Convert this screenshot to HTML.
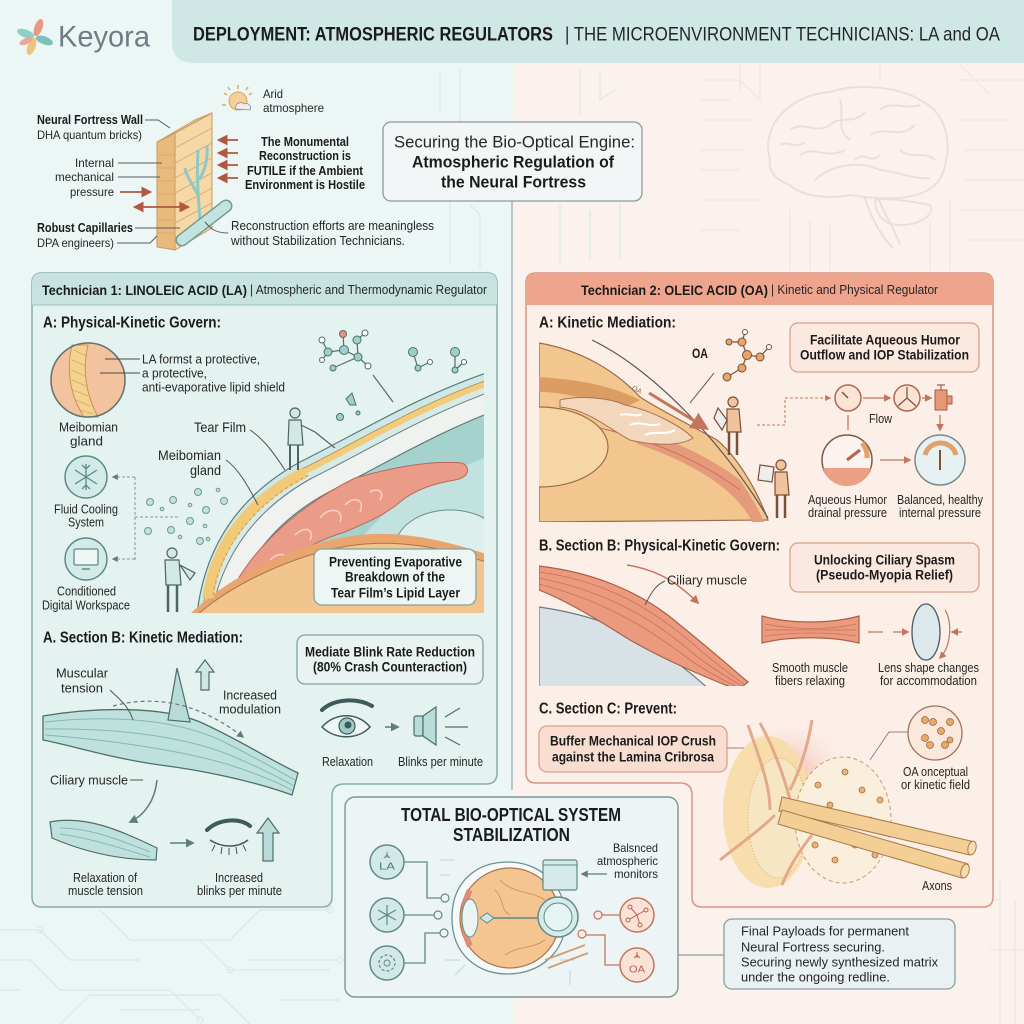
<!DOCTYPE html>
<html><head><meta charset="utf-8">
<style>
html,body{margin:0;padding:0;width:1024px;height:1024px;overflow:hidden;background:#ecf6f5;}
svg{display:block;}
text{font-family:"Liberation Sans",sans-serif;fill:#262626;dominant-baseline:central;}
.b{font-weight:bold;fill:#1b1b1b;}
</style></head><body>
<svg width="1024" height="1024" viewBox="0 0 1024 1024" xmlns="http://www.w3.org/2000/svg">
<defs>
<marker id="ag" viewBox="0 0 10 10" refX="8" refY="5" markerWidth="6" markerHeight="6" orient="auto-start-reverse"><path d="M0 0 L10 5 L0 10 z" fill="#5f7d7b"/></marker>
<marker id="ao" viewBox="0 0 10 10" refX="8" refY="5" markerWidth="6" markerHeight="6" orient="auto-start-reverse"><path d="M0 0 L10 5 L0 10 z" fill="#c2755c"/></marker>
<marker id="ar" viewBox="0 0 10 10" refX="8" refY="5" markerWidth="6" markerHeight="6" orient="auto-start-reverse"><path d="M0 0 L10 5 L0 10 z" fill="#b05842"/></marker>
<radialGradient id="pg" cx="0.5" cy="0.5" r="0.5"><stop offset="0" stop-color="#f3b6a8"/><stop offset="1" stop-color="#fbe9e2" stop-opacity="0"/></radialGradient>
<radialGradient id="tg" cx="0.5" cy="0.5" r="0.5"><stop offset="0" stop-color="#cfe7e7"/><stop offset="1" stop-color="#eaf3f4" stop-opacity="0"/></radialGradient>
<clipPath id="c1"><rect x="190" y="368" width="294" height="245"/></clipPath>
<clipPath id="c2"><rect x="539" y="336" width="232" height="186"/></clipPath>
<clipPath id="c3"><rect x="539" y="560" width="210" height="126"/></clipPath>
</defs>

<!-- backgrounds -->
<rect width="1024" height="1024" fill="#ecf6f5"/>
<rect x="513" y="60" width="511" height="964" fill="#fbf2ed"/>

<!-- faint circuits -->
<g fill="none" stroke="#d8e8e6" stroke-width="1.2">
<path d="M0 930 H40 L70 960 H140 M0 960 H30 L60 990 H170 L200 1020 M0 990 H20 M100 910 L130 940 H230 L260 910 H330 M60 1024 L90 995 H220 L250 1024 M250 960 H340 M200 940 L230 970 H330 M280 1000 H340 M120 1010 H200"/>
<path d="M440 70 V110 M460 70 V120 L470 130 M580 70 V115 M600 70 V100 L615 90 M620 200 V260 M450 200 V265 M470 205 L480 215 V268 M560 205 V265 M590 210 V260"/>
</g>
<g fill="none" stroke="#d8e8e6" stroke-width="1"><circle cx="40" cy="930" r="3"/><circle cx="330" cy="910" r="3"/><circle cx="340" cy="960" r="3"/><circle cx="200" cy="1020" r="3"/><circle cx="230" cy="970" r="3"/></g>
<g fill="none" stroke="#f1e5de" stroke-width="1.2">
<path d="M700 80 H740 L760 100 M700 100 H730 M700 120 H750 M700 150 H745 M700 170 L740 170 M700 200 H760 M700 230 H740 M960 80 H1024 M960 120 H1010 M965 150 H1024 M965 180 H1024 M960 210 H1024 M965 240 H1024 M790 210 V270 M810 220 V270 M830 225 V270 M930 220 V270 M950 200 V270 M740 65 V90 M760 65 V100 M880 65 V80 M960 65 L990 95"/>
<path d="M1000 880 V1024 M1015 900 V1024 M960 900 H1000 M1024 950 H990"/>
</g>

<!-- header band -->
<path d="M172 0 H1024 V63 H194 Q172 63 172 41 Z" fill="#cfe8e6"/>
<!-- logo -->
<g transform="translate(35,37)">
<ellipse cx="0" cy="-10" rx="4" ry="9" fill="#e59a86" transform="rotate(20)"/>
<ellipse cx="0" cy="-10" rx="4" ry="9" fill="#79c2bd" transform="rotate(110)"/>
<ellipse cx="0" cy="-10" rx="4" ry="9" fill="#f0c27f" transform="rotate(200)"/>
<ellipse cx="0" cy="-10" rx="4" ry="9" fill="#8fcfc9" transform="rotate(290)"/>
<ellipse cx="0" cy="-10" rx="3" ry="7" fill="#e8a79a" transform="rotate(245)"/>
</g>
<text x="58" y="37" font-size="30" style="fill:#6e7c83" textLength="92" lengthAdjust="spacingAndGlyphs">Keyora</text>
<text class="b" x="193" y="35" font-size="19" textLength="360" lengthAdjust="spacingAndGlyphs">DEPLOYMENT: ATMOSPHERIC REGULATORS</text>
<text x="565" y="35" font-size="19" textLength="435" lengthAdjust="spacingAndGlyphs">| THE MICROENVIRONMENT TECHNICIANS: LA and OA</text>

<!-- brain -->
<g fill="none" stroke="#ebe0d9" stroke-width="2">
<path d="M770 160 C760 125, 790 95, 830 92 C860 82, 900 88, 920 100 C945 112, 952 140, 945 165 C942 185, 925 195, 905 197 C890 200, 870 198, 850 195 C825 200, 800 195, 790 185 C775 180, 768 170, 770 160 Z"/>
<path d="M815 180 C830 165, 860 160, 880 170 C900 172, 915 180, 930 178 M790 130 C805 120, 815 135, 830 125 C840 115, 855 125, 865 112 M800 155 C815 145, 825 160, 845 150 M870 135 C885 125, 900 140, 915 125 M880 110 C890 100, 905 110, 920 105 M840 100 C845 115, 835 130, 850 140 M900 150 C910 160, 925 150, 935 160 M780 145 C790 140, 795 150, 805 142 M855 160 C865 150, 870 165, 880 155"/>
<path d="M875 200 C885 198, 905 200, 930 205 C935 215, 920 225, 900 225 C885 225, 875 215, 875 200 Z"/>
<path d="M865 198 C870 215, 880 235, 893 248 M878 198 C885 215, 895 230, 900 245"/>
</g>

<!-- top-left wall illustration -->
<path d="M175 133 L212 113 L212 228 L175 250 Z" fill="#f6d7a6" stroke="#c99a62" stroke-width="1"/>
<path d="M157 142 L175 133 L175 250 L157 247 Z" fill="#eab97c" stroke="#c99a62" stroke-width="1"/>
<path d="M157 142 L195 120 L212 113 L175 133 Z" fill="#f3cd96" stroke="#c99a62" stroke-width="1"/>
<g stroke="#d2a66f" stroke-width="0.8" fill="none">
<path d="M175 148 L212 128 M175 163 L212 143 M175 178 L212 158 M175 193 L212 173 M175 208 L212 188 M175 223 L212 203 M175 238 L212 218"/>
<path d="M157 155 H175 M157 168 H175 M157 181 H175 M157 194 H175 M157 207 H175 M157 220 H175 M157 233 H175"/>
</g>
<path d="M200 228 C200 205, 196 190, 198 150 M198 195 C190 180, 186 175, 185 168 M199 180 C205 170, 208 160, 207 145" fill="none" stroke="#8ec9c3" stroke-width="3"/>
<path d="M182 240 L226 206" stroke="#6c9d99" stroke-width="13" stroke-linecap="round"/>
<path d="M182 240 L226 206" stroke="#c3e3df" stroke-width="10" stroke-linecap="round"/>
<g stroke="#5a5a5a" stroke-width="1" fill="none">
<path d="M145 120 H158 L170 128"/><path d="M118 163 H162"/><path d="M118 177 H160"/><path d="M135 228 H180"/><path d="M117 243 H150 L157 236"/><path d="M228 233 C215 233, 210 228, 205 222"/>
</g>
<g stroke="#b05842" stroke-width="1.8" marker-end="url(#ar)">
<path d="M238 140 H219"/><path d="M238 153 H219"/><path d="M238 165 H219"/><path d="M238 178 H219"/><path d="M120 192 H150"/>
</g>
<path d="M188 207 H135" stroke="#b05842" stroke-width="1.8" marker-end="url(#ar)" marker-start="url(#ar)"/>
<g transform="translate(238,101)">
<g stroke="#e0a866" stroke-width="1.5"><path d="M0 -16 V-12 M-14 -8 L-11 -6 M14 -8 L11 -6 M-16 4 H-12 M10 -14 L8 -11 M-10 -14 L-8 -11"/></g>
<circle r="9" fill="#f5cf98" stroke="#d9a462" stroke-width="1"/>
<path d="M-2 8 C-4 2, 4 0, 6 3 C10 1, 14 5, 12 9 Z" fill="#eee" stroke="#8a8a8a" stroke-width="0.8"/>
</g>
<text class="b" x="37" y="120" font-size="12.5" textLength="106" lengthAdjust="spacingAndGlyphs">Neural Fortress Wall</text>
<text x="37" y="135" font-size="12" textLength="105" lengthAdjust="spacingAndGlyphs">DHA quantum bricks)</text>
<text x="75" y="163" font-size="12" textLength="39" lengthAdjust="spacingAndGlyphs">Internal</text>
<text x="55" y="177" font-size="12" textLength="59" lengthAdjust="spacingAndGlyphs">mechanical</text>
<text x="70" y="192" font-size="12" textLength="44" lengthAdjust="spacingAndGlyphs">pressure</text>
<text class="b" x="37" y="228" font-size="12.5" textLength="96" lengthAdjust="spacingAndGlyphs">Robust Capillaries</text>
<text x="37" y="243" font-size="12" textLength="77" lengthAdjust="spacingAndGlyphs">DPA engineers)</text>
<text x="263" y="94" font-size="12" textLength="20" lengthAdjust="spacingAndGlyphs">Arid</text>
<text x="263" y="108" font-size="12" textLength="61" lengthAdjust="spacingAndGlyphs">atmosphere</text>
<text class="b" x="261" y="142" font-size="12.5" textLength="88" lengthAdjust="spacingAndGlyphs">The Monumental</text>
<text class="b" x="259" y="156" font-size="12.5" textLength="92" lengthAdjust="spacingAndGlyphs">Reconstruction is</text>
<text class="b" x="247" y="171" font-size="12.5" textLength="116" lengthAdjust="spacingAndGlyphs">FUTILE if the Ambient</text>
<text class="b" x="245" y="185" font-size="12.5" textLength="120" lengthAdjust="spacingAndGlyphs">Environment is Hostile</text>
<text x="231" y="226" font-size="12.5" textLength="203" lengthAdjust="spacingAndGlyphs">Reconstruction efforts are meaningless</text>
<text x="231" y="241" font-size="12.5" textLength="174" lengthAdjust="spacingAndGlyphs">without Stabilization Technicians.</text>

<!-- center title box -->
<line x1="512" y1="201" x2="512" y2="790" stroke="#9aa7a9" stroke-width="1.2"/>
<rect x="383" y="122" width="259" height="79" rx="8" fill="#f2f6f6" stroke="#8b9b9e" stroke-width="1.3"/>
<text x="394" y="142" font-size="17" textLength="241" lengthAdjust="spacingAndGlyphs">Securing the Bio-Optical Engine:</text>
<text class="b" x="412" y="162" font-size="17" textLength="202" lengthAdjust="spacingAndGlyphs">Atmospheric Regulation of</text>
<text class="b" x="441" y="182" font-size="17" textLength="145" lengthAdjust="spacingAndGlyphs">the Neural Fortress</text>

<!-- LEFT PANEL -->
<path d="M42 273 H487 Q497 273 497 283 V773 Q497 784 486 784 H344 Q332 784 332 796 V897 Q332 907 322 907 H42 Q32 907 32 897 V283 Q32 273 42 273 Z" fill="#e4f2f0" stroke="#86aeab" stroke-width="1.5"/>
<path d="M32 305 V283 Q32 273 42 273 H487 Q497 273 497 283 V305 Z" fill="#c8e3df"/>
<line x1="32" y1="305" x2="497" y2="305" stroke="#9cc1bd" stroke-width="1"/>
<text class="b" x="42" y="290" font-size="14" textLength="205" lengthAdjust="spacingAndGlyphs">Technician 1: LINOLEIC ACID (LA)</text>
<text x="250" y="290" font-size="12.5" textLength="237" lengthAdjust="spacingAndGlyphs">| Atmospheric and Thermodynamic Regulator</text>
<text class="b" x="43" y="323" font-size="16" textLength="178" lengthAdjust="spacingAndGlyphs">A: Physical-Kinetic Govern:</text>

<!-- meibomian circle -->
<circle cx="88" cy="380" r="37" fill="#f3c3a0"/>
<path d="M72 345 C66 370, 70 395, 84 417 L98 417 C86 395, 82 370, 88 345 Z" fill="#f4d38e" stroke="#c49454" stroke-width="1"/>
<path d="M74 350 L86 356 M72 360 L86 366 M71 370 L85 376 M72 380 L86 386 M73 390 L88 396 M76 400 L90 406 M80 410 L93 414" stroke="#d4a868" stroke-width="0.7"/>
<circle cx="88" cy="380" r="37" fill="none" stroke="#5e7170" stroke-width="1.5"/>
<path d="M105 359 H140 M100 373 H140" stroke="#4a4a4a" stroke-width="1"/>
<text x="142" y="359" font-size="13" textLength="118" lengthAdjust="spacingAndGlyphs">LA formst a protective,</text>
<text x="142" y="373" font-size="13" textLength="65" lengthAdjust="spacingAndGlyphs">a protective,</text>
<text x="142" y="387" font-size="13" textLength="143" lengthAdjust="spacingAndGlyphs">anti-evaporative lipid shield</text>
<text x="59" y="427" font-size="13" textLength="59" lengthAdjust="spacingAndGlyphs">Meibomian</text>
<text x="70" y="441" font-size="13" textLength="33" lengthAdjust="spacingAndGlyphs">gland</text>
<circle cx="86" cy="477" r="21" fill="#d3ebe8" stroke="#5c8a87" stroke-width="1.5"/>
<g stroke="#5c8a87" stroke-width="1.3" fill="none"><path d="M86 464 V490 M75 470 L97 484 M75 484 L97 470 M82 465 L86 469 L90 465 M82 489 L86 485 L90 489"/></g>
<circle cx="86" cy="559" r="21" fill="#d3ebe8" stroke="#5c8a87" stroke-width="1.5"/>
<rect x="74" y="549" width="24" height="16" rx="1.5" fill="#eef7f6" stroke="#5c8a87" stroke-width="1.3"/>
<path d="M82 569 H90" stroke="#5c8a87" stroke-width="1.5"/>
<text x="54" y="509" font-size="13" textLength="64" lengthAdjust="spacingAndGlyphs">Fluid Cooling</text>
<text x="68" y="522" font-size="13" textLength="36" lengthAdjust="spacingAndGlyphs">System</text>
<text x="57" y="591" font-size="13" textLength="59" lengthAdjust="spacingAndGlyphs">Conditioned</text>
<text x="42" y="605" font-size="13" textLength="88" lengthAdjust="spacingAndGlyphs">Digital Workspace</text>
<g fill="none" stroke="#7f9c9a" stroke-width="1" stroke-dasharray="3 2">
<path d="M135 477 V560"/><path d="M135 517 H180"/>
<path d="M135 477 H113" marker-end="url(#ag)"/><path d="M135 559 H113" marker-end="url(#ag)"/>
</g>
<!-- bubbles -->
<g fill="#c2e0dc" stroke="#6f9895" stroke-width="1">
<circle cx="150" cy="502" r="3.5"/><circle cx="173" cy="500" r="3.5"/><circle cx="198" cy="492" r="3.5"/><circle cx="224" cy="501" r="3.5"/><circle cx="206" cy="510" r="3.5"/><circle cx="190" cy="521" r="3.5"/><circle cx="171" cy="530" r="3.5"/><circle cx="148" cy="531" r="3.5"/><circle cx="200" cy="541" r="3.5"/>
<circle cx="162" cy="509" r="1.8"/><circle cx="218" cy="490" r="1.8"/><circle cx="190" cy="505" r="1.8"/><circle cx="205" cy="526" r="1.8"/><circle cx="180" cy="537" r="1.8"/><circle cx="208" cy="539" r="1.8"/>
</g>

<!-- left eye cross-section -->
<g clip-path="url(#c1)">
<path d="M197 614 C205 545, 240 495, 300 462 C360 432, 420 395, 492 371 L492 614 Z" fill="#cde8e6" stroke="#5a7b7d" stroke-width="1.2"/>
<path d="M197 614 C205 545, 240 495, 300 462 C360 432, 420 395, 492 371 L492 614 Z" transform="translate(4,6)" fill="#f2cb7c" stroke="#b58c4e" stroke-width="0.8"/>
<path d="M197 614 C205 545, 240 495, 300 462 C360 432, 420 395, 492 371 L492 614 Z" transform="translate(8,11)" fill="#d6eae8"/>
<path d="M197 614 C205 545, 240 495, 300 462 C360 432, 420 395, 492 371 L492 614 Z" transform="translate(12,16)" fill="#f0f2ef" stroke="#677d7e" stroke-width="1"/>
<path d="M197 614 C205 545, 240 495, 300 462 C360 432, 420 395, 492 371 L492 614 Z" transform="translate(27,31)" fill="#a6d2ce" stroke="#5e7f80" stroke-width="1.2"/>
<path d="M330 614 C345 530, 400 490, 492 455 L492 614 Z" fill="#c2e2df"/>
<ellipse cx="450" cy="548" rx="55" ry="38" fill="#dcefed" stroke="#6a8f8d" stroke-width="1"/>
<path d="M222 613 C240 560, 290 510, 355 478 C390 468, 430 460, 462 463 C472 468, 468 478, 455 480 C430 484, 412 492, 400 502 C385 515, 368 522, 345 532 C300 545, 265 575, 250 613 Z" fill="#ea9c89" stroke="#b8695a" stroke-width="1"/>
<path d="M320 518 C330 505, 345 510, 340 522 M345 505 C355 495, 365 500, 360 512 M295 535 C305 525, 315 530, 310 540 M370 492 C378 487, 385 492, 380 500 M270 560 C280 550, 290 555, 285 565" stroke="#f7d3c8" stroke-width="1.5" fill="none"/>
<path d="M190 614 C225 580, 285 548, 345 537 C395 528, 445 540, 492 556 L492 614 Z" fill="#e9a56d"/>
<path d="M198 614 C232 585, 290 556, 348 546 C398 538, 445 548, 492 564 L492 614 Z" fill="#f2c48e" stroke="#a9744c" stroke-width="1"/>
<path d="M208 598 C215 545, 250 500, 305 472" stroke="#f1c977" stroke-width="11" fill="none"/>
<path d="M208 598 C215 545, 250 500, 305 472" stroke="#c89a52" stroke-width="1" stroke-dasharray="3 3" fill="none" transform="translate(4,3)"/>
</g>
<!-- molecules on left -->
<g stroke="#4f6f6d" stroke-width="1.2" fill="none">
<path d="M322 340 L328 352 L344 350 L343 334 M344 350 L358 357 L357 340 L365 333 M358 357 L333 368 M328 352 L322 360 M358 357 L368 366 M413 352 L418 368 L430 362 M455 352 L455 370 L464 362 M373 375 L393 402"/>
</g>
<g fill="#9fcfc9" stroke="#4f6f6d" stroke-width="1">
<circle cx="328" cy="352" r="4"/><circle cx="344" cy="350" r="4.5"/><circle cx="358" cy="357" r="4"/><circle cx="357" cy="340" r="4"/><circle cx="333" cy="368" r="3"/><circle cx="322" cy="340" r="3" fill="#fff"/><circle cx="365" cy="333" r="3" fill="#fff"/><circle cx="368" cy="366" r="3" fill="#fff"/><circle cx="322" cy="360" r="2.5" fill="#fff"/>
<circle cx="343" cy="334" r="3.5" fill="#e8927e"/>
<circle cx="413" cy="352" r="4.5"/><circle cx="418" cy="368" r="3"/><circle cx="430" cy="362" r="2.5" fill="#fff"/>
<circle cx="455" cy="352" r="4.5"/><circle cx="455" cy="370" r="3"/><circle cx="464" cy="362" r="2.5" fill="#fff"/>
<circle cx="340" cy="417" r="3.5"/><circle cx="358" cy="413" r="2"/>
</g>
<path d="M350 405 L346 399 L352 393 L356 405 Z" fill="#9fcfc9" stroke="#4f6f6d" stroke-width="1"/>
<!-- workers -->
<g stroke="#4b6664" stroke-width="1.2" fill="#d3e7e5">
<circle cx="295" cy="413" r="5"/>
<path d="M289 420 H301 L303 445 H288 Z"/>
<path d="M290 445 V470 M298 445 V470" fill="none" stroke-width="2"/>
<path d="M301 425 L315 432 L335 448" fill="none"/>
<circle cx="172" cy="553" r="5"/>
<path d="M165 560 H179 L181 585 H166 Z"/>
<path d="M168 585 V612 M177 585 V612" fill="none" stroke-width="2.5"/>
<path d="M180 565 L195 573 L190 580 Z"/>
</g>
<path d="M250 430 C265 440, 275 455, 285 470" stroke="#555" stroke-width="1" fill="none"/>
<path d="M226 460 C240 470, 250 490, 258 505" stroke="#555" stroke-width="1" fill="none"/>
<text x="194" y="427" font-size="14" textLength="52" lengthAdjust="spacingAndGlyphs">Tear Film</text>
<text x="158" y="455" font-size="14" textLength="63" lengthAdjust="spacingAndGlyphs">Meibomian</text>
<text x="190" y="470" font-size="14" textLength="31" lengthAdjust="spacingAndGlyphs">gland</text>
<rect x="314" y="549" width="162" height="56" rx="8" fill="#eef6f5" stroke="#7fa4a2" stroke-width="1.3"/>
<text class="b" x="329" y="562" font-size="13.5" textLength="133" lengthAdjust="spacingAndGlyphs">Preventing Evaporative</text>
<text class="b" x="345" y="577" font-size="13.5" textLength="100" lengthAdjust="spacingAndGlyphs">Breakdown of the</text>
<text class="b" x="331" y="593" font-size="13.5" textLength="129" lengthAdjust="spacingAndGlyphs">Tear Film’s Lipid Layer</text>

<!-- left section B -->
<text class="b" x="43" y="638" font-size="16" textLength="200" lengthAdjust="spacingAndGlyphs">A. Section B: Kinetic Mediation:</text>
<rect x="297" y="635" width="186" height="49" rx="8" fill="#e9f3f2" stroke="#7fa4a2" stroke-width="1.3"/>
<text class="b" x="305" y="652" font-size="13.5" textLength="170" lengthAdjust="spacingAndGlyphs">Mediate Blink Rate Reduction</text>
<text class="b" x="313" y="667" font-size="13.5" textLength="154" lengthAdjust="spacingAndGlyphs">(80% Crash Counteraction)</text>
<!-- eye icon -->
<path d="M322 710 C335 698, 358 698, 372 706" stroke="#3e5a59" stroke-width="4" fill="none" stroke-linecap="round"/>
<path d="M322 727 C335 712, 358 712, 370 727 C358 740, 335 740, 322 727 Z" fill="#eef7f6" stroke="#3e5a59" stroke-width="1.5"/>
<circle cx="347" cy="726" r="8" fill="#9ccbc6" stroke="#3e5a59" stroke-width="1.2"/>
<circle cx="348" cy="725" r="3.5" fill="#3e5a59"/>
<path d="M385 727 H398" stroke="#5f7d7b" stroke-width="1.5" marker-end="url(#ag)"/>
<rect x="414" y="716" width="9" height="20" rx="2" fill="#b9dcd8" stroke="#4e6e6c" stroke-width="1.2"/>
<path d="M423 716 L436 707 V745 L423 736 Z" fill="#b9dcd8" stroke="#4e6e6c" stroke-width="1.2"/>
<path d="M445 717 L460 708 M445 727 H468 M445 737 L460 745" stroke="#4e6e6c" stroke-width="1.2"/>
<text x="322" y="762" font-size="12.5" textLength="51" lengthAdjust="spacingAndGlyphs">Relaxation</text>
<text x="398" y="762" font-size="12.5" textLength="85" lengthAdjust="spacingAndGlyphs">Blinks per minute</text>
<!-- teal muscle -->
<path d="M43 716 C90 708, 160 705, 200 722 C240 740, 270 760, 298 773 L292 795 C250 780, 200 770, 160 765 C110 758, 70 745, 43 740 Z" fill="#bfe1dd" stroke="#4e6e6c" stroke-width="1.3"/>
<g stroke="#86b8b3" stroke-width="1" fill="none">
<path d="M45 722 C110 715, 180 718, 230 745 C260 760, 280 772, 295 780"/>
<path d="M45 729 C110 728, 180 735, 230 755 C260 768, 280 778, 294 786"/>
<path d="M45 735 C110 740, 180 750, 230 765 C260 775, 280 783, 293 791"/>
</g>
<path d="M168 720 L177 668 L190 722 Z" fill="#b7dcd8" stroke="#4e6e6c" stroke-width="1.2"/>
<path d="M113 706 Q180 688, 243 737" stroke="#5f7d7b" stroke-width="1.2" stroke-dasharray="4 3" fill="none" marker-end="url(#ag)"/>
<path d="M205 660 L214 672 L209 672 L209 690 L201 690 L201 672 L196 672 Z" fill="#cfe8e5" stroke="#4e6e6c" stroke-width="1.2"/>
<path d="M110 690 C120 700, 128 705, 133 720 M143 780 C135 780, 133 780, 130 780" stroke="#555" stroke-width="1" fill="none"/>
<path d="M157 780 C155 800, 145 815, 130 822" stroke="#5f7d7b" stroke-width="1.5" fill="none" marker-end="url(#ag)"/>
<text x="56" y="673" font-size="13" textLength="52" lengthAdjust="spacingAndGlyphs">Muscular</text>
<text x="61" y="688" font-size="13" textLength="42" lengthAdjust="spacingAndGlyphs">tension</text>
<text x="223" y="695" font-size="13" textLength="54" lengthAdjust="spacingAndGlyphs">Increased</text>
<text x="219" y="709" font-size="13" textLength="62" lengthAdjust="spacingAndGlyphs">modulation</text>
<text x="50" y="780" font-size="13" textLength="78" lengthAdjust="spacingAndGlyphs">Ciliary muscle</text>
<path d="M50 822 C85 815, 120 830, 157 848 L156 860 C115 860, 80 850, 52 838 Z" fill="#bfe1dd" stroke="#4e6e6c" stroke-width="1.2"/>
<path d="M60 828 C90 828, 120 840, 150 852 M60 834 C90 838, 120 848, 150 857" stroke="#86b8b3" stroke-width="1" fill="none"/>
<path d="M170 843 H193" stroke="#5f7d7b" stroke-width="1.5" marker-end="url(#ag)"/>
<path d="M207 830 C220 818, 240 818, 250 826" stroke="#3e5a59" stroke-width="4" fill="none" stroke-linecap="round"/>
<path d="M210 840 C222 848, 238 848, 248 840" stroke="#3e5a59" stroke-width="1.5" fill="none"/>
<path d="M215 845 L212 851 M222 847 L221 854 M229 848 L229 855 M236 847 L237 854 M243 845 L246 851" stroke="#3e5a59" stroke-width="1"/>
<path d="M268 818 L279 833 L273 833 L273 861 L263 861 L263 833 L257 833 Z" fill="#b9dcd8" stroke="#4e6e6c" stroke-width="1.2"/>
<text x="73" y="878" font-size="12.5" textLength="64" lengthAdjust="spacingAndGlyphs">Relaxation of</text>
<text x="68" y="891" font-size="12.5" textLength="75" lengthAdjust="spacingAndGlyphs">muscle tension</text>
<text x="215" y="878" font-size="12.5" textLength="48" lengthAdjust="spacingAndGlyphs">Increased</text>
<text x="197" y="891" font-size="12.5" textLength="85" lengthAdjust="spacingAndGlyphs">blinks per minute</text>

<!-- RIGHT PANEL -->
<path d="M536 273 H983 Q993 273 993 283 V897 Q993 907 983 907 H702 Q692 907 692 897 V795 Q692 783 680 783 H536 Q526 783 526 773 V283 Q526 273 536 273 Z" fill="#fcefe8" stroke="#d69684" stroke-width="1.5"/>
<path d="M526 305 V283 Q526 273 536 273 H983 Q993 273 993 283 V305 Z" fill="#efa48e"/>
<text class="b" x="581" y="290" font-size="14" textLength="187" lengthAdjust="spacingAndGlyphs">Technician 2: OLEIC ACID (OA)</text>
<text x="771" y="290" font-size="12.5" textLength="167" lengthAdjust="spacingAndGlyphs">| Kinetic and Physical Regulator</text>
<text class="b" x="539" y="323" font-size="16" textLength="137" lengthAdjust="spacingAndGlyphs">A: Kinetic Mediation:</text>

<!-- right eye -->
<g clip-path="url(#c2)">
<path d="M539 343 C580 350, 615 370, 640 397 C660 410, 690 425, 717 440 C735 455, 755 485, 768 520 L539 522 Z" fill="#f2c68e" stroke="#9c6c48" stroke-width="1.2"/>
<path d="M539 377 C580 380, 610 385, 640 400 L620 410 C590 398, 560 392, 539 392 Z" fill="#dc9d62"/>
<path d="M600 420 C650 430, 700 450, 740 480 C750 495, 758 508, 764 522 L752 522 C740 495, 700 465, 640 445 Z" fill="#e69a7c"/>
<path d="M600 428 C650 440, 700 460, 740 490" stroke="#c77058" stroke-width="1" fill="none"/>
<ellipse cx="540" cy="447" rx="68" ry="40" fill="#f6d6a4" stroke="#9c6c48" stroke-width="1.2"/>
<path d="M560 400 C580 395, 610 398, 625 405 C650 410, 680 425, 693 438 C680 447, 650 445, 630 440 C610 430, 590 410, 560 407 Z" fill="#f3d7bd" stroke="#a77553" stroke-width="1"/>
<path d="M630 425 C640 420, 650 428, 660 424 M645 435 C655 430, 665 436, 675 430 M620 415 C628 412, 635 418, 642 414" stroke="#fff" stroke-width="2" fill="none"/>
</g>
<path d="M592 340 C650 368, 720 438, 768 518" stroke="#555" stroke-width="1.2" fill="none"/>
<path d="M649 393 L706 428" stroke="#c2755c" stroke-width="3" marker-end="url(#ao)"/>
<text x="632" y="388" font-size="7" style="fill:#8a6a55" transform="rotate(28 632 388)">OA</text>
<path d="M714 373 L690 403" stroke="#555" stroke-width="1"/>
<text class="b" x="692" y="353" font-size="14" textLength="16" lengthAdjust="spacingAndGlyphs">OA</text>
<g stroke="#7b5036" stroke-width="1.2" fill="none"><path d="M745 332 L742 342 L729 342 M742 342 L747 355 L760 357 L769 347 M747 355 L742 368 L727 377"/></g>
<g fill="#e7a56a" stroke="#7b5036" stroke-width="1"><circle cx="742" cy="342" r="4"/><circle cx="729" cy="342" r="3"/><circle cx="747" cy="355" r="4.5"/><circle cx="760" cy="357" r="4"/><circle cx="742" cy="368" r="4"/><circle cx="727" cy="377" r="4"/><circle cx="745" cy="332" r="2.5" fill="#fff"/><circle cx="769" cy="347" r="2.5" fill="#fff"/></g>
<!-- right workers -->
<g stroke="#7b5036" stroke-width="1.2" fill="#f0c39c">
<circle cx="733" cy="402" r="5"/><path d="M727 409 H739 L741 432 H727 Z"/><path d="M729 432 V455 M737 432 V455" fill="none" stroke-width="2.5"/>
<path d="M718 408 L727 420 L722 430 L714 418 Z" fill="#eee"/>
<circle cx="781" cy="465" r="5"/><path d="M775 472 H787 L789 495 H775 Z"/><path d="M777 495 V518 M785 495 V518" fill="none" stroke-width="2.5"/>
<path d="M760 465 L774 467 L772 482 L758 480 Z" fill="#eee"/>
</g>
<!-- flow diagram -->
<rect x="790" y="323" width="189" height="49" rx="8" fill="#fbe8df" stroke="#d9a08c" stroke-width="1.3"/>
<text class="b" x="810" y="340" font-size="13.5" textLength="150" lengthAdjust="spacingAndGlyphs">Facilitate Aqueous Humor</text>
<text class="b" x="800" y="355" font-size="13.5" textLength="169" lengthAdjust="spacingAndGlyphs">Outflow and IOP Stabilization</text>
<path d="M757 425 H785 V398 H830" stroke="#c2755c" stroke-width="1" stroke-dasharray="3 2" fill="none" marker-end="url(#ao)"/>
<circle cx="848" cy="398" r="13" fill="#fbe3d6" stroke="#b5654e" stroke-width="1.5"/>
<path d="M848 398 L842 392" stroke="#7b5036" stroke-width="1.5"/>
<path d="M863 398 H890" stroke="#c2755c" stroke-width="1.3" marker-end="url(#ao)"/>
<circle cx="907" cy="398" r="13" fill="#fbe3d6" stroke="#b5654e" stroke-width="1.5"/>
<path d="M907 387 V398 L898 406 M907 398 L916 406" stroke="#7b5036" stroke-width="1.2" fill="none"/>
<path d="M922 398 H931" stroke="#c2755c" stroke-width="1.3" marker-end="url(#ao)"/>
<path d="M935 390 H947 V410 H935 Z M947 396 H952 V404 H947 Z" fill="#e59876" stroke="#a75c46" stroke-width="1"/>
<path d="M937 385 H945 M941 385 V390" stroke="#a75c46" stroke-width="1.2" fill="none"/>
<path d="M848 415 V430 M940 415 V430" stroke="#c2755c" stroke-width="1.3" marker-end="url(#ao)"/>
<circle cx="847" cy="460" r="25" fill="#fdf3ee" stroke="#7b5a4a" stroke-width="1.5"/>
<path d="M823 468 H871 A25 25 0 0 1 823 468 Z" fill="#eba084"/>
<path d="M862 443 A20 20 0 0 1 867 458" stroke="#e2a06a" stroke-width="5" fill="none"/>
<path d="M847 460 L860 450" stroke="#b5654e" stroke-width="3"/>
<path d="M880 460 H910" stroke="#c2755c" stroke-width="1.3" marker-end="url(#ao)"/>
<circle cx="940" cy="460" r="25" fill="#e8f1f1" stroke="#7b8a8a" stroke-width="1.5"/>
<path d="M925 455 A16 16 0 0 1 956 455" stroke="#e2a06a" stroke-width="5" fill="none"/>
<path d="M940 450 V470" stroke="#7b5036" stroke-width="2"/>
<text x="869" y="419" font-size="12.5" textLength="23" lengthAdjust="spacingAndGlyphs">Flow</text>
<text x="808" y="500" font-size="12.5" textLength="79" lengthAdjust="spacingAndGlyphs">Aqueous Humor</text>
<text x="808" y="513" font-size="12.5" textLength="79" lengthAdjust="spacingAndGlyphs">drainal pressure</text>
<text x="897" y="500" font-size="12.5" textLength="86" lengthAdjust="spacingAndGlyphs">Balanced, healthy</text>
<text x="899" y="513" font-size="12.5" textLength="82" lengthAdjust="spacingAndGlyphs">internal pressure</text>

<!-- right section B -->
<text class="b" x="539" y="546" font-size="16" textLength="241" lengthAdjust="spacingAndGlyphs">B. Section B: Physical-Kinetic Govern:</text>
<rect x="790" y="543" width="189" height="49" rx="8" fill="#fbe8df" stroke="#d9a08c" stroke-width="1.3"/>
<text class="b" x="814" y="560" font-size="13.5" textLength="141" lengthAdjust="spacingAndGlyphs">Unlocking Ciliary Spasm</text>
<text class="b" x="816" y="575" font-size="13.5" textLength="137" lengthAdjust="spacingAndGlyphs">(Pseudo-Myopia Relief)</text>
<g clip-path="url(#c3)">
<path d="M539 607 C575 612, 610 622, 645 640 C668 655, 690 672, 710 690 L539 690 Z" fill="#d8e1e6" stroke="#6a7a80" stroke-width="1.2"/>
<path d="M539 566 C590 572, 640 590, 680 625 C705 645, 728 665, 748 682 L738 690 C700 675, 665 660, 630 640 C595 618, 565 600, 539 590 Z" fill="#eb9a7e" stroke="#a8604a" stroke-width="1.2"/>
<g stroke="#c9705a" stroke-width="0.8" fill="none">
<path d="M539 572 C600 580, 650 605, 700 650 C718 665, 732 676, 744 684"/>
<path d="M539 578 C600 590, 650 615, 695 655 C712 668, 728 678, 742 686"/>
<path d="M539 584 C600 600, 645 625, 690 660 C708 672, 722 680, 740 688"/>
</g>
</g>
<path d="M627 565 C660 570, 680 585, 698 603" stroke="#c2755c" stroke-width="1.5" fill="none" marker-end="url(#ao)"/>
<path d="M665 581 C655 585, 650 595, 645 605" stroke="#555" stroke-width="1" fill="none"/>
<text x="667" y="580" font-size="13" textLength="80" lengthAdjust="spacingAndGlyphs">Ciliary muscle</text>
<path d="M762 616 C790 624, 830 624, 859 616 L859 643 C830 636, 790 636, 762 643 Z" fill="#eb9a7e" stroke="#a8604a" stroke-width="1.2"/>
<path d="M765 624 C795 630, 830 630, 856 624 M765 630 H856 M765 636 C795 632, 830 632, 856 636" stroke="#c9705a" stroke-width="0.8" fill="none"/>
<path d="M868 632 H883 M893 632 H908" stroke="#c2755c" stroke-width="1.3" marker-end="url(#ao)"/>
<ellipse cx="926" cy="632" rx="14" ry="28" fill="#dce8ec" stroke="#4a5a60" stroke-width="1.3"/>
<path d="M945 610 C952 620, 952 645, 940 658" stroke="#c2755c" stroke-width="1.2" fill="none" marker-end="url(#ao)"/>
<path d="M962 632 H952" stroke="#c2755c" stroke-width="1.3" marker-end="url(#ao)"/>
<text x="772" y="668" font-size="12.5" textLength="76" lengthAdjust="spacingAndGlyphs">Smooth muscle</text>
<text x="775" y="681" font-size="12.5" textLength="70" lengthAdjust="spacingAndGlyphs">fibers relaxing</text>
<text x="878" y="668" font-size="12.5" textLength="101" lengthAdjust="spacingAndGlyphs">Lens shape changes</text>
<text x="880" y="681" font-size="12.5" textLength="97" lengthAdjust="spacingAndGlyphs">for accommodation</text>

<!-- right section C -->
<text class="b" x="539" y="709" font-size="16" textLength="138" lengthAdjust="spacingAndGlyphs">C. Section C: Prevent:</text>
<rect x="539" y="726" width="188" height="46" rx="8" fill="#f9ddd1" stroke="#d9a08c" stroke-width="1.3"/>
<text class="b" x="550" y="741" font-size="13.5" textLength="166" lengthAdjust="spacingAndGlyphs">Buffer Mechanical IOP Crush</text>
<text class="b" x="552" y="757" font-size="13.5" textLength="162" lengthAdjust="spacingAndGlyphs">against the Lamina Cribrosa</text>
<path d="M727 748 H745" stroke="#b07a68" stroke-width="1"/>
<circle cx="792" cy="776" r="60" fill="url(#pg)"/>
<ellipse cx="768" cy="812" rx="45" ry="76" fill="#f7dba6" opacity="0.9"/>
<ellipse cx="778" cy="818" rx="30" ry="60" fill="#f6e6c4" stroke="#c9a070" stroke-width="0.8" stroke-dasharray="1 2"/>
<ellipse cx="843" cy="820" rx="48" ry="63" fill="#f9efdc" stroke="#c99a70" stroke-width="1" stroke-dasharray="4 3"/>
<g fill="#e8b27a" stroke="#a86e42" stroke-width="0.8">
<circle cx="845" cy="772" r="3"/><circle cx="862" cy="790" r="3"/><circle cx="830" cy="805" r="3"/><circle cx="870" cy="820" r="3"/><circle cx="855" cy="845" r="3"/><circle cx="835" cy="860" r="3"/><circle cx="815" cy="845" r="3"/><circle cx="875" cy="855" r="3"/><circle cx="818" cy="785" r="3"/><circle cx="880" cy="800" r="3"/>
</g>
<path d="M748 725 C760 760, 770 785, 770 810 M760 723 C775 750, 785 780, 790 800 M812 720 C808 745, 800 770, 790 790 M720 860 C745 840, 760 830, 775 815 M782 885 C790 865, 800 850, 812 835" stroke="#e3a98a" stroke-width="3" fill="none"/>
<path d="M782 797 L975 842 L970 855 L779 811 Z" fill="#f3cf95" stroke="#a87a4a" stroke-width="1"/>
<path d="M782 810 L968 864 L962 878 L778 824 Z" fill="#f3cf95" stroke="#a87a4a" stroke-width="1"/>
<ellipse cx="972" cy="848" rx="4" ry="7" fill="#f7dcae" stroke="#a87a4a" stroke-width="1" transform="rotate(14 972 848)"/>
<ellipse cx="965" cy="871" rx="4" ry="7" fill="#f7dcae" stroke="#a87a4a" stroke-width="1" transform="rotate(16 965 871)"/>
<circle cx="935" cy="733" r="27" fill="#fbe8dc" stroke="#a07060" stroke-width="1.3"/>
<g fill="#e8a86a" stroke="#a06a3c" stroke-width="0.8">
<circle cx="925" cy="720" r="3.5"/><circle cx="933" cy="722" r="3.5"/><circle cx="941" cy="731" r="3.5"/><circle cx="950" cy="722" r="3.5"/><circle cx="925" cy="738" r="3.5"/><circle cx="930" cy="745" r="3.5"/><circle cx="945" cy="745" r="3.5"/><circle cx="950" cy="740" r="3"/>
</g>
<path d="M908 732 H889 L870 760" stroke="#888" stroke-width="1" fill="none"/>
<text x="903" y="772" font-size="12.5" textLength="65" lengthAdjust="spacingAndGlyphs">OA onceptual</text>
<text x="901" y="785" font-size="12.5" textLength="69" lengthAdjust="spacingAndGlyphs">or kinetic field</text>
<text x="922" y="886" font-size="12.5" textLength="30" lengthAdjust="spacingAndGlyphs">Axons</text>

<!-- Final payloads -->
<line x1="678" y1="955" x2="724" y2="955" stroke="#8a9ea0" stroke-width="1.2"/>
<rect x="724" y="919" width="231" height="70" rx="8" fill="#eaf1f3" stroke="#8a9ea0" stroke-width="1.3"/>
<text x="741" y="931" font-size="13" textLength="168" lengthAdjust="spacingAndGlyphs">Final Payloads for permanent</text>
<text x="741" y="947" font-size="13" textLength="144" lengthAdjust="spacingAndGlyphs">Neural Fortress securing.</text>
<text x="741" y="962" font-size="13" textLength="197" lengthAdjust="spacingAndGlyphs">Securing newly synthesized matrix</text>
<text x="741" y="977" font-size="13" textLength="149" lengthAdjust="spacingAndGlyphs">under the ongoing redline.</text>

<!-- CENTER BOTTOM BOX -->
<rect x="345" y="797" width="333" height="200" rx="10" fill="#edf4f5" stroke="#7f9496" stroke-width="1.4"/>
<text class="b" x="401" y="815" font-size="18" textLength="220" lengthAdjust="spacingAndGlyphs">TOTAL BIO-OPTICAL SYSTEM</text>
<text class="b" x="453" y="835" font-size="18" textLength="117" lengthAdjust="spacingAndGlyphs">STABILIZATION</text>
<ellipse cx="510" cy="918" rx="88" ry="70" fill="url(#tg)"/>
<g fill="none" stroke="#bcd6d5" stroke-width="1">
<path d="M440 860 H455 M440 875 H450 M445 960 H460 M560 960 H575 M570 985 V970 M455 975 L465 965"/>
</g>
<path d="M452 918 C452 880, 478 862, 508 862 C540 862, 565 885, 566 918 C566 952, 540 974, 508 974 C478 974, 452 955, 452 918 Z" fill="#f5f9f9" stroke="#6f9090" stroke-width="1.3"/>
<circle cx="510" cy="918" r="50" fill="#f4c590" stroke="#a9764c" stroke-width="1.2"/>
<path d="M470 890 C462 905, 462 930, 470 946" stroke="#e08a78" stroke-width="6" fill="none"/>
<ellipse cx="470" cy="918" rx="8" ry="19" fill="#eaf4f4" stroke="#6f9090" stroke-width="1"/>
<g stroke="#c88a58" stroke-width="0.8" fill="none"><path d="M500 880 C515 895, 530 890, 545 900 M505 955 C520 945, 530 950, 545 940 M495 890 C505 900, 500 910, 510 915"/></g>
<path d="M480 918 H545" stroke="#5f8a88" stroke-width="1.5"/>
<path d="M480 918 L487 913 L494 918 L487 923 Z" fill="#cfe7e5" stroke="#5f8a88" stroke-width="1"/>
<path d="M545 960 L585 945 M548 968 L588 953" stroke="#d0a070" stroke-width="2"/>
<circle cx="558" cy="917" r="20" fill="#d4ebea" stroke="#5f8a88" stroke-width="1.5"/>
<circle cx="558" cy="917" r="14" fill="#e6f4f3" stroke="#5f8a88" stroke-width="1"/>
<rect x="543" y="860" width="34" height="30" rx="2" fill="#d6ebe9" stroke="#5f8a88" stroke-width="1.2"/>
<path d="M543 865 H577" stroke="#5f8a88" stroke-width="1"/>
<path d="M607 874 H582" stroke="#5f7d7b" stroke-width="1.2" marker-end="url(#ag)"/>
<text x="613" y="848" font-size="12" textLength="45" lengthAdjust="spacingAndGlyphs">Balsnced</text>
<text x="597" y="861" font-size="12" textLength="61" lengthAdjust="spacingAndGlyphs">atmospheric</text>
<text x="614" y="874" font-size="12" textLength="44" lengthAdjust="spacingAndGlyphs">monitors</text>
<!-- left circles -->
<g fill="none" stroke="#5f8a88" stroke-width="1.3">
<path d="M404 862 H427 V898 H441"/><path d="M404 915 H434"/><path d="M404 963 H425 V933 H440"/>
</g>
<g fill="#eef6f6" stroke="#5f8a88" stroke-width="1.2"><circle cx="445" cy="898" r="4"/><circle cx="438" cy="915" r="4"/><circle cx="444" cy="933" r="4"/></g>
<circle cx="387" cy="862" r="17" fill="#d3e9e7" stroke="#5f8a88" stroke-width="1.5"/>
<circle cx="387" cy="915" r="17" fill="#d3e9e7" stroke="#5f8a88" stroke-width="1.5"/>
<circle cx="387" cy="963" r="17" fill="#d3e9e7" stroke="#5f8a88" stroke-width="1.5"/>
<path d="M387 852 V858 M384 858 L387 855 L390 858" stroke="#5f8a88" stroke-width="1" fill="none"/>
<text x="379" y="867" font-size="10" style="fill:#4f7a78" textLength="16" lengthAdjust="spacingAndGlyphs">LA</text>
<g stroke="#5f8a88" stroke-width="1.2"><path d="M387 905 V925 M378 910 L396 920 M378 920 L396 910"/></g>
<circle cx="387" cy="963" r="8" fill="none" stroke="#5f8a88" stroke-width="1.2" stroke-dasharray="3 2"/>
<circle cx="387" cy="963" r="3" fill="none" stroke="#5f8a88" stroke-width="1"/>
<!-- right circles -->
<g fill="none" stroke="#c2755c" stroke-width="1.3"><path d="M620 915 H602"/><path d="M620 965 H605 V935 H586"/></g>
<g fill="#fbeee8" stroke="#c2755c" stroke-width="1.2"><circle cx="598" cy="915" r="4"/><circle cx="582" cy="934" r="4"/></g>
<circle cx="637" cy="915" r="17" fill="#fbe3d7" stroke="#c2755c" stroke-width="1.5"/>
<circle cx="637" cy="965" r="17" fill="#fbe3d7" stroke="#c2755c" stroke-width="1.5"/>
<g stroke="#b5654e" stroke-width="1"><path d="M637 915 L630 907 M637 915 L646 910 M637 915 L640 925 M637 915 L628 920"/></g>
<g fill="#fbe3d7" stroke="#b5654e" stroke-width="1"><circle cx="630" cy="907" r="2"/><circle cx="646" cy="910" r="2"/><circle cx="640" cy="925" r="2"/><circle cx="628" cy="920" r="2"/></g>
<path d="M637 952 V958 M634 958 L637 955 L640 958" stroke="#b5654e" stroke-width="1" fill="none"/>
<text x="629" y="970" font-size="10" style="fill:#b5654e" textLength="16" lengthAdjust="spacingAndGlyphs">OA</text>
</svg>
</body></html>
